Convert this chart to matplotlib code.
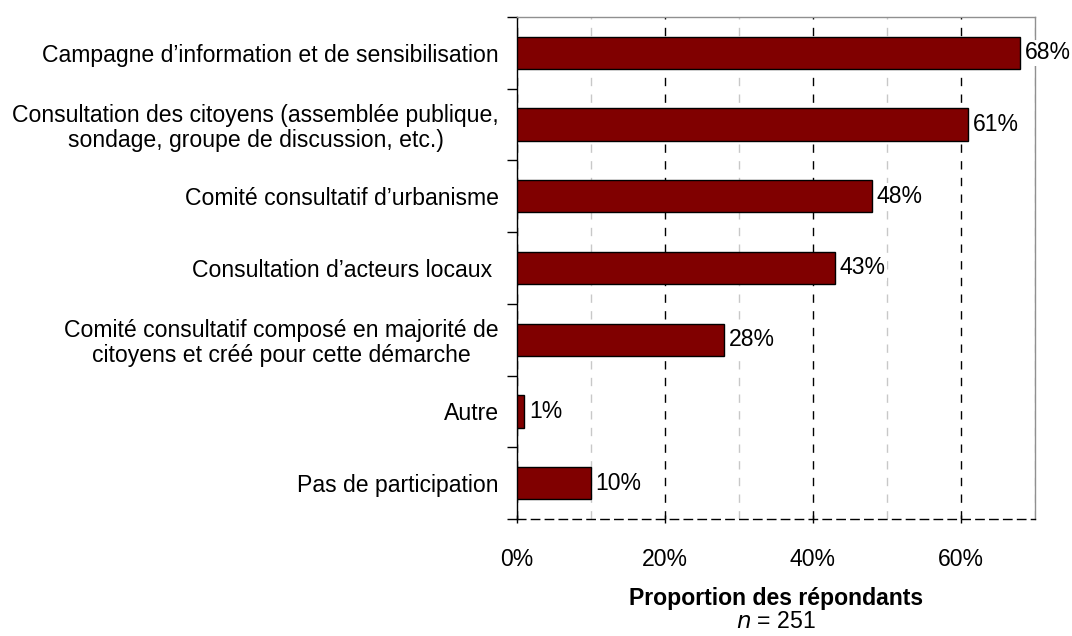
import matplotlib
matplotlib.use("Agg")
import matplotlib.pyplot as plt
from matplotlib.ticker import MultipleLocator

categories = [
    "Campagne d\u2019information et de sensibilisation",
    "Consultation des citoyens (assemblée publique,\nsondage, groupe de discussion, etc.)",
    "Comité consultatif d\u2019urbanisme",
    "Consultation d\u2019acteurs locaux ",
    "Comité consultatif composé en majorité de\ncitoyens et créé pour cette démarche",
    "Autre",
    "Pas de participation",
]
values = [68, 61, 48, 43, 28, 1, 10]
value_labels = ["68%", "61%", "48%", "43%", "28%", "1%", "10%"]
x_ticks = [0, 20, 40, 60]
x_tick_labels = ["0%", "20%", "40%", "60%"]

plt.rcParams['font.family'] = ['Liberation Sans', 'DejaVu Sans']
FS = 16.6

fig = plt.figure(figsize=(10.72, 6.36), dpi=100)
ax = fig.add_axes([517/1072, 1 - 519/636, (1035-517)/1072, (519-17)/636])

n = len(categories)
ypos = list(range(n))
ax.barh(ypos, values, height=0.45, color="#800000", edgecolor="black", linewidth=1, zorder=3)
ax.set_ylim(n - 0.5, -0.5)
ax.set_xlim(0, 70)

for y, v, lab in zip(ypos, values, value_labels):
    ax.text(v + 0.6, y, lab, va="center", ha="left", fontsize=FS, zorder=5,
            bbox=dict(facecolor="white", edgecolor="none", pad=1))

ax.set_yticks(ypos)
ax.set_yticklabels(categories, fontsize=FS, linespacing=1.1, ha="right", multialignment="center")
ax.tick_params(axis="y", which="major", length=0, pad=13)
ax.set_yticks([i - 0.5 for i in range(n + 1)], minor=True)
ax.tick_params(axis="y", which="minor", length=7, direction="out", width=1)

ax.set_xticks(x_ticks)
ax.set_xticklabels(x_tick_labels, fontsize=FS)
ax.xaxis.set_minor_locator(MultipleLocator(10))
ax.tick_params(axis="x", which="major", length=6, direction="inout", pad=18, width=1)
ax.tick_params(axis="x", which="minor", length=0)

ax.grid(axis="x", which="major", color="black", linestyle=(0, (6, 6)), linewidth=1, zorder=1)
ax.grid(axis="x", which="minor", color="#c8c8c8", linestyle=(0, (6, 6)), linewidth=1, zorder=1)

ax.spines["left"].set_color("black")
ax.spines["bottom"].set_color("black")
ax.spines["bottom"].set_linestyle((0, (6, 4)))
ax.spines["top"].set_color("#909090")
ax.spines["right"].set_color("#909090")
for s in ax.spines.values():
    s.set_linewidth(1)

fig.text((517 + 1035) / 2 / 1072, 1 - 598/636, "Proportion des répondants", ha="center", va="center",
         fontsize=FS, fontweight="bold")
fig.text((517 + 1035) / 2 / 1072, 1 - 621/636, "$\\it{n}$ = 251", ha="center", va="center", fontsize=FS)

fig.savefig("out.png", dpi=100)
